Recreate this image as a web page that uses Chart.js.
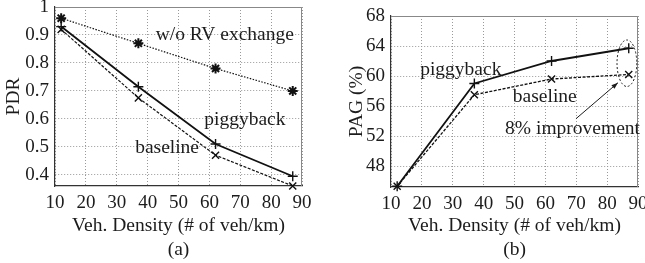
<!DOCTYPE html>
<html>
<head>
<meta charset="utf-8">
<script src="https://cdn.jsdelivr.net/npm/chart.js@4"></script>
<style>
  html, body { margin: 0; padding: 0; background: #fff; }
  #wrap { position: relative; width: 645px; height: 263px; overflow: hidden; }
  canvas { position: absolute; top: 0; }
  #pdr { left: 0; }
  #pag { left: 322px; }
</style>
</head>
<body>
<div id="wrap">
  <canvas id="pdr" width="322" height="263"></canvas>
  <canvas id="pag" width="323" height="263"></canvas>
</div>
<script>
// values
var density = [12, 37, 62, 87];
var pdrNoRV = [0.96, 0.87, 0.78, 0.70];
var pdrPiggyback = [0.93, 0.715, 0.51, 0.395];
var pdrBaseline = [0.92, 0.675, 0.47, 0.36];
var pagPiggyback = [45.3, 59.0, 62.0, 63.7];
var pagBaseline = [45.3, 57.5, 59.6, 60.2];

var xTicks = [10, 20, 30, 40, 50, 60, 70, 80, 90];
var pdrTicks = [0.4, 0.5, 0.6, 0.7, 0.8, 0.9, 1];
var pagTicks = [48, 52, 56, 60, 64, 68];

var FONT = "'Liberation Serif', serif";
var INK = '#1c1c1c';

function pts(ys) {
	return density.map(function(x, i) { return { x: x, y: ys[i] }; });
}

// top and right sides of the box
var frame = {
	id: 'frame',
	beforeDatasetsDraw: function(chart) {
		var a = chart.chartArea, ctx = chart.ctx;
		ctx.save();
		ctx.strokeStyle = '#888';
		ctx.lineWidth = 1;
		ctx.beginPath();
		ctx.moveTo(a.left, a.top + 0.5);
		ctx.lineTo(a.right - 0.5, a.top + 0.5);
		ctx.lineTo(a.right - 0.5, a.bottom);
		ctx.stroke();
		ctx.restore();
	}
};

// text labels and arrow placed in data coordinates
var notes = {
	id: 'notes',
	afterDatasetsDraw: function(chart, args, opts) {
		var ctx = chart.ctx, sx = chart.scales.x, sy = chart.scales.y;
		ctx.save();
		ctx.fillStyle = INK;
		ctx.font = '19.5px ' + FONT;
		ctx.textAlign = 'center';
		ctx.textBaseline = 'middle';
		(opts.labels || []).forEach(function(l) {
			ctx.fillText(l.text, sx.getPixelForValue(l.x), sy.getPixelForValue(l.y));
		});
		if (opts.arrow) {
			var x0 = sx.getPixelForValue(opts.arrow[0]), y0 = sy.getPixelForValue(opts.arrow[1]);
			var x1 = sx.getPixelForValue(opts.arrow[2]), y1 = sy.getPixelForValue(opts.arrow[3]);
			ctx.strokeStyle = INK;
			ctx.lineWidth = 1;
			ctx.beginPath();
			ctx.moveTo(x0, y0);
			ctx.lineTo(x1, y1);
			ctx.stroke();
			var ang = Math.atan2(y1 - y0, x1 - x0);
			ctx.beginPath();
			ctx.moveTo(x1, y1);
			ctx.lineTo(x1 - 7 * Math.cos(ang - 0.35), y1 - 7 * Math.sin(ang - 0.35));
			ctx.lineTo(x1 - 7 * Math.cos(ang + 0.35), y1 - 7 * Math.sin(ang + 0.35));
			ctx.closePath();
			ctx.fill();
		}
		if (opts.ellipse) {
			var e = opts.ellipse;
			var cx = sx.getPixelForValue(e[0]), cy = sy.getPixelForValue(e[1]);
			var rx = Math.abs(sx.getPixelForValue(e[0] + e[2]) - cx);
			var ry = Math.abs(sy.getPixelForValue(e[1] + e[3]) - cy);
			ctx.strokeStyle = INK;
			ctx.setLineDash([2, 2]);
			ctx.beginPath();
			ctx.ellipse(cx, cy, rx, ry, 0, 0, Math.PI * 2);
			ctx.stroke();
		}
		ctx.restore();
	}
};

function makeChart(id, o) {
	return new Chart(document.getElementById(id), {
		type: 'line',
		data: { datasets: o.datasets },
		plugins: [frame, notes],
		options: {
			responsive: false,
			animation: false,
			layout: { autoPadding: false, padding: o.padding },
			plugins: {
				legend: { display: false },
				tooltip: { enabled: false },
				notes: o.notes
			},
			scales: {
				x: {
					type: 'linear',
					min: 10,
					max: 90,
					afterBuildTicks: function(s) { s.ticks = xTicks.map(function(v) { return { value: v }; }); },
					afterFit: function(s) { s.height = o.xHeight; s.paddingLeft = 0; s.paddingRight = 0; },
					ticks: { font: { family: FONT, size: 19 }, color: INK, padding: 6, maxRotation: 0 },
					grid: { color: '#999', drawTicks: false },
					border: { color: '#333', width: 1.2, dash: [1, 2] },
					title: {
						display: true,
						text: ['Veh. Density (# of veh/km)', o.caption],
						font: { family: FONT, size: 19.5, lineHeight: 1.23 },
						color: INK,
						padding: { top: 0, bottom: 1 }
					}
				},
				y: {
					min: o.yMin,
					max: o.yMax,
					afterBuildTicks: function(s) { s.ticks = o.yTicks.map(function(v) { return { value: v }; }); },
					afterFit: function(s) { s.width = o.yWidth; s.paddingTop = 0; s.paddingBottom = 0; },
					ticks: { font: { family: FONT, size: 19 }, color: INK, padding: 6,
						callback: function(v) { return String(v); } },
					grid: { color: '#999', drawTicks: false },
					border: { color: '#333', width: 1.2, dash: [1, 2] },
					title: {
						display: true,
						text: o.yTitle,
						font: { family: FONT, size: 19.5 },
						color: INK,
						padding: { top: o.yTitlePad, bottom: 0 }
					}
				}
			}
		}
	});
}

function series(ys, style) {
	return {
		data: pts(ys),
		borderColor: '#111',
		backgroundColor: '#111',
		borderWidth: style.width,
		borderDash: style.dash || [],
		pointStyle: style.point,
		pointRadius: 5,
		pointBorderWidth: style.pointWidth || 1.4,
		pointBorderColor: '#111',
		tension: 0,
		fill: false,
		clip: false
	};
}

makeChart('pdr', {
	padding: { left: 0, top: 7, right: 20, bottom: 0 },
	xHeight: 77,
	yWidth: 55,
	yMin: 0.36,
	yMax: 1,
	yTicks: pdrTicks,
	yTitle: 'PDR',
	yTitlePad: 2,
	caption: '(a)',
	datasets: [
		series(pdrNoRV, { width: 1.2, dash: [1.5, 1.5], point: 'star', pointWidth: 2 }),
		series(pdrPiggyback, { width: 1.8, point: 'cross' }),
		series(pdrBaseline, { width: 1.2, dash: [3, 1.5], point: 'crossRot' })
	],
	notes: {
		labels: [
			{ text: 'w/o RV exchange', x: 65, y: 0.9 },
			{ text: 'piggyback', x: 71.5, y: 0.597 },
			{ text: 'baseline', x: 46.3, y: 0.498 }
		]
	}
});

makeChart('pag', {
	padding: { left: 0, top: 16, right: 7, bottom: 0 },
	xHeight: 76,
	yWidth: 69,
	yMin: 45.2,
	yMax: 68,
	yTicks: pagTicks,
	yTitle: 'PAG (%)',
	yTitlePad: 23,
	caption: '(b)',
	datasets: [
		series(pagPiggyback, { width: 1.8, point: 'cross' }),
		series(pagBaseline, { width: 1.3, dash: [3, 1.5], point: 'crossRot' })
	],
	notes: {
		labels: [
			{ text: 'piggyback', x: 32.6, y: 60.85 },
			{ text: 'baseline', x: 59.8, y: 57.2 },
			{ text: '8% improvement', x: 68.8, y: 53.0 }
		],
		arrow: [69.9, 54.3, 83.5, 59.1],
		ellipse: [86.4, 61.7, 3.2, 3.1]
	}
});
</script>
</body>
</html>
